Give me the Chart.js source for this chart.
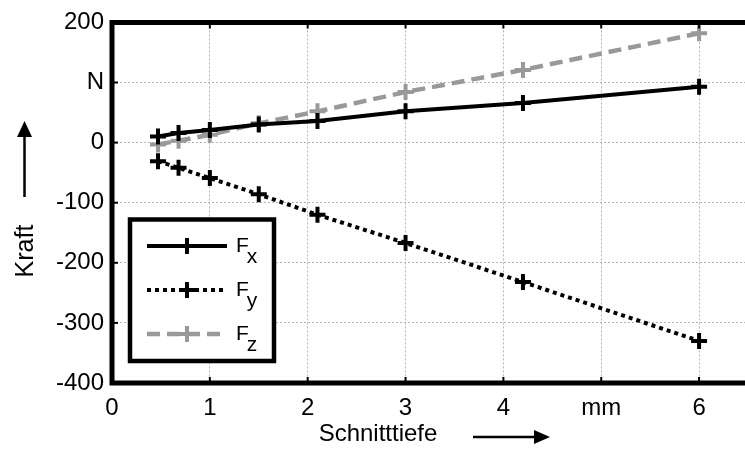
<!DOCTYPE html>
<html>
<head>
<meta charset="utf-8">
<script src="https://cdn.jsdelivr.net/npm/chart.js@4/dist/chart.umd.min.js"></script>
<style>
  html, body { margin: 0; padding: 0; background: #fff; overflow: hidden; }
  canvas { display: block; }
</style>
</head>
<body>
<canvas id="forceChart" width="760" height="452"></canvas>
<script>
// Schnitttiefe in mm
const depth = [0.47, 0.68, 1, 1.5, 2.1, 3, 4.2, 6];

// Kraft in N
const fx = [10, 16, 21, 30, 36, 52, 66, 93];
const fy = [-31, -42, -59, -86, -120, -167, -232, -330];
const fz = [-3, 3, 13, 32, 52, 84, 121, 182];

const seriesNames = ["F", "F", "F"];
const seriesSubs  = ["x", "y", "z"];

const xTickValues = [0, 1, 2, 3, 4, 5, 6];
const xTickLabels = ["0", "1", "2", "3", "4", "mm", "6"];
const yTickValues = [-400, -300, -200, -100, 0, 100, 200];
const yTickLabels = ["-400", "-300", "-200", "-100", "0", "N", "200"];

const FONT = "'Liberation Sans', Arial, sans-serif";

const pts = ys => depth.map((x, i) => ({ x: x, y: ys[i] }));

// Rahmen links/oben/unten, Ticks nach innen, Legende, Achsentitel mit Pfeil
const decor = {
    id: "decor",
    afterDatasetsDraw(chart) {
        const ctx = chart.ctx;
        const a = chart.chartArea;
        const xs = chart.scales.x, ys = chart.scales.y;
        ctx.save();

        // ticks
        ctx.strokeStyle = "#000";
        ctx.lineWidth = 2;
        xTickValues.forEach(v => {
            const px = xs.getPixelForValue(v);
            ctx.beginPath();
            ctx.moveTo(px, a.top); ctx.lineTo(px, a.top + 6);
            ctx.moveTo(px, a.bottom); ctx.lineTo(px, a.bottom - 6);
            ctx.stroke();
        });
        yTickValues.forEach(v => {
            const py = ys.getPixelForValue(v);
            ctx.beginPath();
            ctx.moveTo(a.left, py); ctx.lineTo(a.left + 6, py);
            ctx.stroke();
        });

        // frame
        ctx.lineWidth = 5;
        ctx.lineCap = "square";
        ctx.beginPath();
        ctx.moveTo(a.right + 10, a.top);
        ctx.lineTo(a.left, a.top);
        ctx.lineTo(a.left, a.bottom);
        ctx.lineTo(a.right + 10, a.bottom);
        ctx.stroke();
        ctx.lineCap = "butt";

        // legend
        const L = 130, T = 219.5, R = 274, B = 361;
        ctx.fillStyle = "#fff";
        ctx.fillRect(L, T, R - L, B - T);
        ctx.lineWidth = 4.5;
        ctx.strokeStyle = "#000";
        ctx.strokeRect(L, T, R - L, B - T);

        const rows = [246, 290, 334];
        chart.data.datasets.forEach((ds, i) => {
            const y = rows[i];
            ctx.strokeStyle = ds.borderColor;
            ctx.lineWidth = ds.borderWidth;
            ctx.setLineDash(ds.borderDash || []);
            ctx.beginPath();
            ctx.moveTo(147, y); ctx.lineTo(227, y);
            ctx.stroke();
            ctx.setLineDash([]);
            ctx.lineWidth = ds.pointBorderWidth;
            ctx.beginPath();
            ctx.moveTo(187 - ds.pointRadius, y); ctx.lineTo(187 + ds.pointRadius, y);
            ctx.moveTo(187, y - ds.pointRadius); ctx.lineTo(187, y + ds.pointRadius);
            ctx.stroke();

            ctx.fillStyle = "#000";
            ctx.textAlign = "left";
            ctx.textBaseline = "alphabetic";
            ctx.font = "21px " + FONT;
            ctx.fillText(seriesNames[i], 236, y + 6);
            const w = ctx.measureText(seriesNames[i]).width;
            ctx.fillText(seriesSubs[i], 236 + w - 2, y + 17);
        });

        // y title + arrow
        ctx.fillStyle = "#000";
        ctx.strokeStyle = "#000";
        ctx.font = "25px " + FONT;
        ctx.save();
        ctx.translate(33, 251);
        ctx.rotate(-Math.PI / 2);
        ctx.textAlign = "center";
        ctx.textBaseline = "alphabetic";
        ctx.fillText("Kraft", 0, 0);
        ctx.restore();
        ctx.lineWidth = 2.5;
        ctx.beginPath();
        ctx.moveTo(24.5, 197); ctx.lineTo(24.5, 134);
        ctx.stroke();
        ctx.beginPath();
        ctx.moveTo(24.5, 121); ctx.lineTo(17, 137); ctx.lineTo(32, 137);
        ctx.closePath(); ctx.fill();

        // x title + arrow
        ctx.font = "24px " + FONT;
        ctx.textAlign = "center";
        ctx.textBaseline = "alphabetic";
        ctx.fillText("Schnitttiefe", 378, 441);
        ctx.beginPath();
        ctx.moveTo(473, 437); ctx.lineTo(535, 437);
        ctx.stroke();
        ctx.beginPath();
        ctx.moveTo(550, 437); ctx.lineTo(534, 430); ctx.lineTo(534, 444);
        ctx.closePath(); ctx.fill();

        ctx.restore();
    }
};

new Chart(document.getElementById("forceChart"), {
    type: "line",
    data: {
        datasets: [
            {
                label: "Fx",
                data: pts(fx),
                borderColor: "#000",
                borderWidth: 4,
                pointStyle: "cross",
                pointRadius: 8,
                pointBorderWidth: 4,
                pointBorderColor: "#000",
                fill: false
            },
            {
                label: "Fy",
                data: pts(fy),
                borderColor: "#000",
                borderWidth: 4,
                borderDash: [4, 4],
                pointStyle: "cross",
                pointRadius: 8,
                pointBorderWidth: 4,
                pointBorderColor: "#000",
                fill: false
            },
            {
                label: "Fz",
                data: pts(fz),
                borderColor: "#999999",
                borderWidth: 4.5,
                borderDash: [13, 7],
                pointStyle: "cross",
                pointRadius: 8,
                pointBorderWidth: 4,
                pointBorderColor: "#999999",
                fill: false
            }
        ]
    },
    options: {
        responsive: false,
        animation: false,
        devicePixelRatio: 1,
        layout: { padding: { top: 20, right: 8, left: 0, bottom: 0 } },
        plugins: {
            legend: { display: false },
            tooltip: { enabled: false }
        },
        scales: {
            x: {
                type: "linear",
                min: 0,
                max: 6.5,
                afterBuildTicks: s => { s.ticks = xTickValues.map(v => ({ value: v })); },
                afterFit: s => { s.height = 69; },
                ticks: {
                    color: "#000",
                    font: { family: FONT, size: 24 },
                    padding: 11,
                    maxRotation: 0,
                    autoSkip: false,
                    callback: v => xTickLabels[xTickValues.indexOf(v)]
                },
                grid: {
                    color: "#b4b4b4",
                    lineWidth: 1,
                    drawTicks: false
                },
                border: { display: false, dash: [2, 2] }
            },
            y: {
                type: "linear",
                min: -400,
                max: 200,
                afterBuildTicks: s => { s.ticks = yTickValues.map(v => ({ value: v })); },
                afterFit: s => { s.width = 112; },
                ticks: {
                    color: "#000",
                    font: { family: FONT, size: 24 },
                    padding: 8,
                    callback: v => yTickLabels[yTickValues.indexOf(v)]
                },
                grid: {
                    color: "#b4b4b4",
                    lineWidth: 1,
                    drawTicks: false
                },
                border: { display: false, dash: [2, 2] }
            }
        }
    },
    plugins: [decor]
});
</script>
</body>
</html>
